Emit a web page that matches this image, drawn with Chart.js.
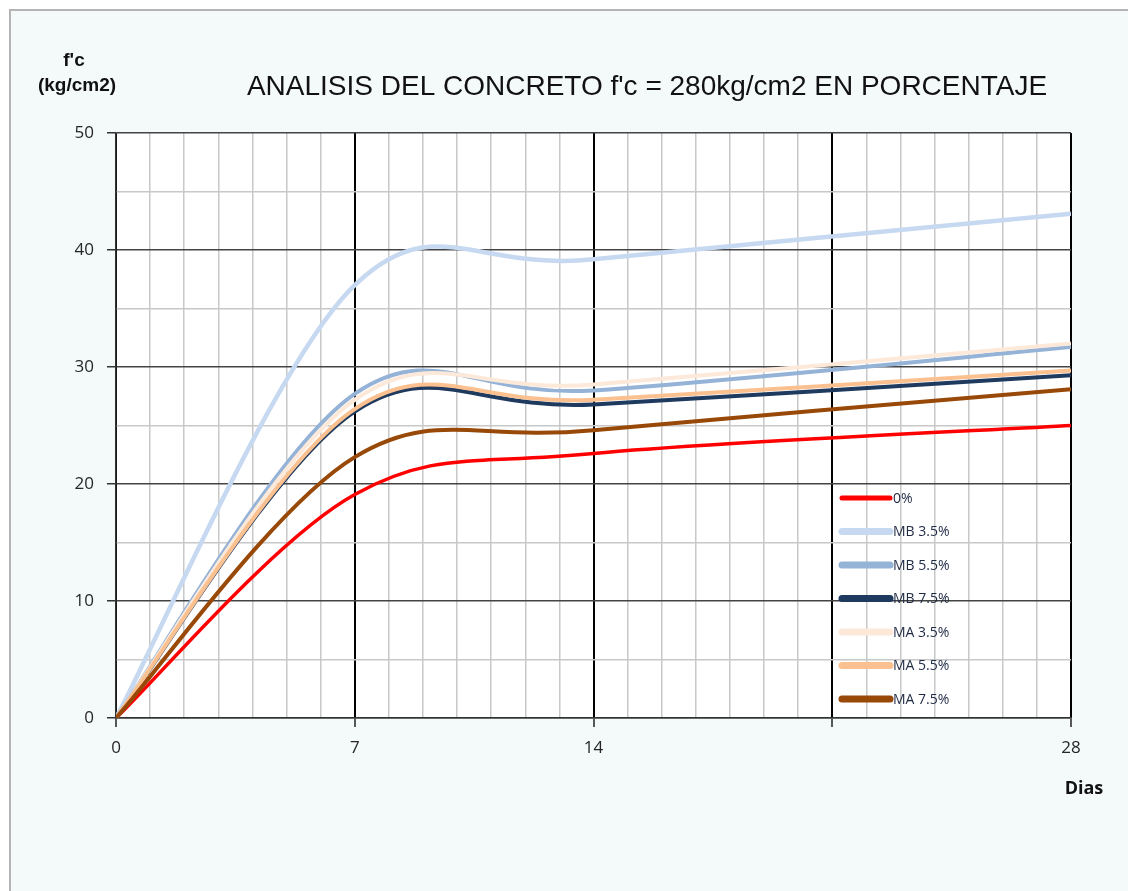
<!DOCTYPE html>
<html>
<head>
<meta charset="utf-8">
<script src="https://cdn.jsdelivr.net/npm/chart.js@4.4.1/dist/chart.umd.min.js"></script>
<style>
  html, body { margin: 0; padding: 0; background: #ffffff; }
  #wrap { width: 1128px; height: 891px; }
</style>
</head>
<body>
<div id="wrap"><canvas id="resistenciaChart" width="1128" height="891"></canvas></div>
<script>
// dias de ensayo
const dias = [0, 7, 14, 28];

// f'c (kg/cm2) por serie
const serie0 = [0, 19.1, 22.6, 25.0];
const mb35 = [0, 37.0, 39.2, 43.1];
const mb55 = [0, 27.7, 28.0, 31.7];
const mb75 = [0, 26.2, 26.8, 29.3];
const ma35 = [0, 27.2, 28.5, 32.0];
const ma55 = [0, 26.4, 27.2, 29.7];
const ma75 = [0, 22.3, 24.6, 28.1];

const nombres = ['0%', 'MB 3.5%', 'MB 5.5%', 'MB 7.5%', 'MA 3.5%', 'MA 5.5%', 'MA 7.5%'];
const series = [serie0, mb35, mb55, mb75, ma35, ma55, ma75];
const colores = ['#ff0000', '#c6d9f1', '#95b3d7', '#1f3a5f', '#fde9d9', '#fac090', '#984807'];
const grosor = [3.5, 4.5, 4, 4, 4, 4, 4];

// etiquetas de los ejes
const ticksX = [0, 7, 14, 28];
const ticksY = [0, 10, 20, 30, 40, 50];

const titulo = "ANALISIS DEL CONCRETO f'c = 280kg/cm2 EN PORCENTAJE";

const ctx = document.getElementById('resistenciaChart');

const fondo = {
    id: 'fondo',
    beforeDraw(chart) {
        const c = chart.ctx;
        const a = chart.chartArea;
        c.save();
        c.fillStyle = '#ffffff';
        c.fillRect(0, 0, chart.width, chart.height);
        c.fillStyle = '#f4f9fa';
        c.fillRect(11, 11, chart.width - 11, chart.height - 11);
        c.strokeStyle = '#b4b4b4';
        c.lineWidth = 2;
        c.beginPath();
        c.moveTo(10, chart.height);
        c.lineTo(10, 10);
        c.lineTo(chart.width, 10);
        c.stroke();
        c.fillStyle = '#ffffff';
        c.fillRect(a.left, a.top, a.right - a.left, a.bottom - a.top);
        c.restore();
    }
};

// suavizado tipo Excel (Catmull-Rom 1/6) sobre los puntos ya escalados
const suavizado = {
    id: 'suavizado',
    beforeDatasetsDraw(chart) {
        chart.getSortedVisibleDatasetMetas().forEach((meta) => {
            const line = meta.dataset;
            line.updateControlPoints(chart.chartArea, 'x');
            const p = meta.data;
            const n = p.length;
            for (let i = 0; i < n; i++) {
                const prev = p[Math.max(i - 1, 0)];
                const next = p[Math.min(i + 1, n - 1)];
                const dx = (next.x - prev.x) / 6;
                const dy = (next.y - prev.y) / 6;
                p[i].cp1x = p[i].x - dx;
                p[i].cp1y = p[i].y - dy;
                p[i].cp2x = p[i].x + dx;
                p[i].cp2y = p[i].y + dy;
            }
            line._path = undefined;
        });
    }
};

const textos = {
    id: 'textos',
    afterDraw(chart) {
        const c = chart.ctx;
        c.save();
        c.fillStyle = '#111111';
        c.textAlign = 'center';
        c.textBaseline = 'middle';

        c.font = '28px "Liberation Sans", Arial, sans-serif';
        c.fillText(titulo, 647, 87, 810);

        c.font = 'bold 19px "Liberation Sans", Arial, sans-serif';
        c.fillText("f'c", 74, 61);
        c.fillText('(kg/cm2)', 77, 86, 86);

        c.font = 'bold 18px "Open Sans", sans-serif';
        c.fillText('Dias', 1084, 789);

        // leyenda
        c.textAlign = 'left';
        c.font = '14px "Open Sans", sans-serif';
        c.lineCap = 'round';
        nombres.forEach((n, i) => {
            const y = 498 + i * 33.5;
            c.strokeStyle = colores[i];
            c.lineWidth = i === 0 ? 5 : 7;
            c.beginPath();
            c.moveTo(842, y);
            c.lineTo(890, y);
            c.stroke();
            c.fillStyle = '#1f2a44';
            c.fillText(n, 893, y + 1);
        });
        c.restore();
    }
};

new Chart(ctx, {

    type: 'line',

    data: {
        datasets: series.map((s, i) => ({
            label: nombres[i],
            data: s.map((v, j) => ({ x: dias[j], y: v })),
            borderColor: colores[i],
            backgroundColor: colores[i],
            borderWidth: grosor[i],
            pointRadius: 0,
            tension: 0.4,
            fill: false,
            order: series.length - i
        }))
    },

    options: {

        responsive: false,
        animation: false,

        layout: {
            padding: { top: 133, right: 57, bottom: 0, left: 0 }
        },

        plugins: {
            legend: { display: false },
            title: { display: false },
            tooltip: { enabled: false }
        },

        scales: {

            x: {
                type: 'linear',
                min: 0,
                max: 28,
                afterFit(scale) { scale.height = 173; },
                ticks: {
                    stepSize: 1,
                    autoSkip: false,
                    maxRotation: 0,
                    padding: 11,
                    color: '#262626',
                    font: { family: '"Open Sans", sans-serif', size: 17 },
                    callback: (v) => ticksX.includes(v) ? v : ''
                },
                grid: {
                    color: (c) => c.tick.value % 7 === 0 ? '#000000' : '#c8c8c8',
                    lineWidth: (c) => c.tick.value % 7 === 0 ? 2 : 1.5,
                    tickColor: (c) => c.tick.value % 7 === 0 ? '#222222' : 'rgba(0,0,0,0)',
                    tickLength: 9,
                    tickWidth: 1.5
                },
                border: { color: '#333333', width: 1.5 }
            },

            y: {
                min: 0,
                max: 50,
                afterFit(scale) { scale.width = 116; },
                ticks: {
                    stepSize: 5,
                    autoSkip: false,
                    padding: 13,
                    color: '#262626',
                    font: { family: '"Open Sans", sans-serif', size: 17 },
                    callback: (v) => ticksY.includes(v) ? v : ''
                },
                grid: {
                    color: (c) => c.tick.value % 10 === 0 ? '#444444' : '#c8c8c8',
                    lineWidth: 1.5,
                    tickColor: (c) => c.tick.value % 10 === 0 ? '#333333' : 'rgba(0,0,0,0)',
                    tickLength: 9,
                    tickWidth: 1.5
                },
                border: { color: '#333333', width: 1.5 }
            }

        }

    },

    plugins: [fondo, suavizado, textos]

});
</script>
</body>
</html>
